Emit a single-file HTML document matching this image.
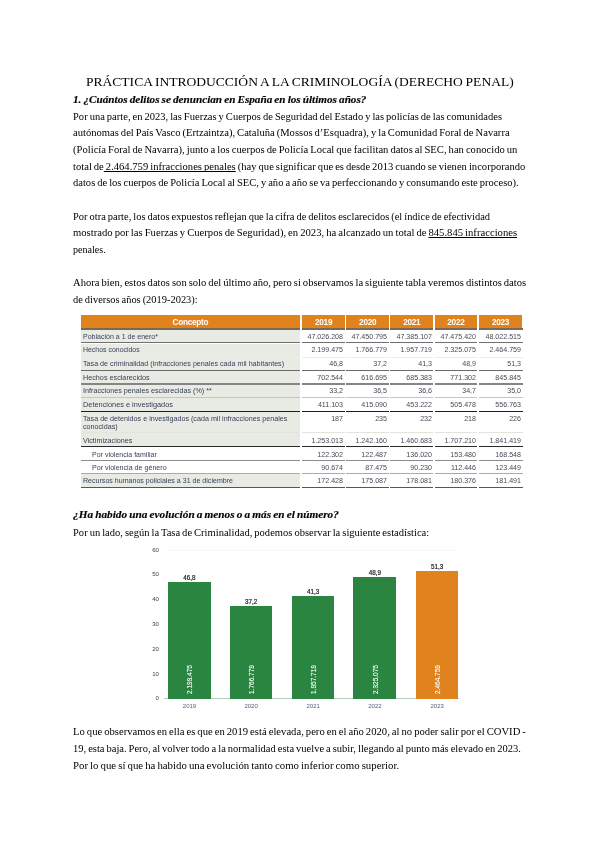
<!DOCTYPE html>
<html lang="es"><head><meta charset="utf-8"><title>doc</title><style>
html,body{margin:0;padding:0;background:#fff;}
body{width:600px;height:848px;position:relative;overflow:hidden;font-family:"Liberation Serif",serif;color:#000;}
.l{position:absolute;white-space:nowrap;transform-origin:0 0;line-height:1;word-spacing:-0.6px;}
.t{font-size:12.6px;}
.h{font-size:10.0px;font-weight:bold;font-style:italic;color:#000;-webkit-text-stroke:0.15px #000;}
.b{font-size:9.9px;}
u{text-decoration:underline;text-decoration-thickness:0.9px;text-underline-offset:0.9px;text-decoration-skip-ink:none;}

.tb{position:absolute;left:0;top:0;width:600px;height:848px;filter:blur(0.35px);font-family:"Liberation Sans",sans-serif;}
.tb div{position:absolute;}
.hd{background:#E0821E;color:#fff;font-weight:bold;font-size:8.2px;letter-spacing:-0.25px;line-height:16.4px;text-align:center;height:13.9px;top:314.5px;}
.c1{left:80.5px;width:219.8px;background:#E7EBE3;}
.ln{left:80.5px;width:442px;}
.rt{left:82.6px;font-size:7.15px;line-height:8.4px;color:#39405a;white-space:nowrap;transform-origin:0 0;}
.v{font-size:7.5px;line-height:8.4px;transform:scaleX(0.945);transform-origin:100% 50%;color:#454a55;text-align:right;width:41px;white-space:nowrap;}
.gap{background:#fff;top:313px;height:177px;width:1.6px;}
.ch{position:absolute;left:0;top:0;width:600px;height:848px;filter:blur(0.35px);font-family:"Liberation Sans",sans-serif;}
.ch div{position:absolute;}
.yl{font-size:6.1px;line-height:6px;color:#3a4358;width:12px;text-align:right;left:147px;}
.xl{font-size:6px;line-height:6px;color:#55607a;width:43px;text-align:center;top:702.8px;}
.vl{font-size:6.3px;line-height:6px;color:#1c1c24;-webkit-text-stroke:0.2px #1c1c24;width:43px;text-align:center;}
.bar{background:#2A8540;width:42.6px;}
.rl{font-size:6.5px;-webkit-text-stroke:0.1px #fff;line-height:6px;color:#fff;white-space:nowrap;transform-origin:0 0;transform:rotate(-90deg);}
</style></head><body>
<div class="l t" id="l0" style="left:85.6px;top:75.95px;transform:scaleX(1.0746)">PRÁCTICA INTRODUCCIÓN A LA CRIMINOLOGÍA (DERECHO PENAL)</div>
<div class="l h" id="l1" style="left:73.3px;top:95.47px;transform:scaleX(1.1169)">1. ¿Cuántos delitos se denuncian en España en los últimos años?</div>
<div class="l b" id="l2" style="left:72.6px;top:111.71px;transform:scaleX(1.0668)">Por una parte, en 2023, las Fuerzas y Cuerpos de Seguridad del Estado y las policías de las comunidades</div>
<div class="l b" id="l3" style="left:72.6px;top:128.36px;transform:scaleX(1.0715)">autónomas del País Vasco (Ertzaintza), Cataluña (Mossos d’Esquadra), y la Comunidad Foral de Navarra</div>
<div class="l b" id="l4" style="left:72.6px;top:145.01px;transform:scaleX(1.0742)">(Policía Foral de Navarra), junto a los cuerpos de Policía Local que facilitan datos al SEC, han conocido un</div>
<div class="l b" id="l5" style="left:72.6px;top:161.66px;transform:scaleX(1.0725)">total de<u> 2.464.759 infracciones penales</u> (hay que significar que es desde 2013 cuando se vienen incorporando</div>
<div class="l b" id="l6" style="left:72.6px;top:178.31px;transform:scaleX(1.0669)">datos de los cuerpos de Policía Local al SEC, y año a año se va perfeccionando y consumando este proceso).</div>
<div class="l b" id="l7" style="left:72.6px;top:211.61px;transform:scaleX(1.0593)">Por otra parte, los datos expuestos reflejan que la cifra de delitos esclarecidos (el índice de efectividad</div>
<div class="l b" id="l8" style="left:72.6px;top:228.26px;transform:scaleX(1.0782)">mostrado por las Fuerzas y Cuerpos de Seguridad), en 2023, ha alcanzado un total de <u>845.845 infracciones</u></div>
<div class="l b" id="l9" style="left:72.6px;top:244.91px;transform:scaleX(1.0189)">penales.</div>
<div class="l b" id="l10" style="left:72.6px;top:278.21px;transform:scaleX(1.0731)">Ahora bien, estos datos son solo del último año, pero si observamos la siguiente tabla veremos distintos datos</div>
<div class="l b" id="l11" style="left:72.6px;top:294.86px;transform:scaleX(1.0562)">de diversos años (2019-2023):</div>
<div class="l h" id="l12" style="left:72.6px;top:510.42px;transform:scaleX(1.1270)">¿Ha habido una evolución a menos o a más en el número?</div>
<div class="l b" id="l13" style="left:72.6px;top:527.96px;transform:scaleX(1.0676)">Por un lado, según la Tasa de Criminalidad, podemos observar la siguiente estadística:</div>
<div class="l b" id="l14" style="left:72.6px;top:727.36px;transform:scaleX(1.0776)">Lo que observamos en ella es que en 2019 está elevada, pero en el año 2020, al no poder salir por el COVID -</div>
<div class="l b" id="l15" style="left:72.6px;top:744.01px;transform:scaleX(1.0649)">19, esta baja. Pero, al volver todo a la normalidad esta vuelve a subir, llegando al punto más elevado en 2023.</div>
<div class="l b" id="l16" style="left:72.6px;top:760.66px;transform:scaleX(1.0957)">Por lo que sí que ha habido una evolución tanto como inferior como superior.</div>
<div class="tb">
<div class="hd" style="left:80.5px;width:219.8px">Concepto</div>
<div class="hd" style="left:302.20px;width:42.80px">2019</div>
<div class="hd" style="left:346.30px;width:42.80px">2020</div>
<div class="hd" style="left:390.40px;width:42.80px">2021</div>
<div class="hd" style="left:434.50px;width:42.80px">2022</div>
<div class="hd" style="left:478.60px;width:43.90px">2023</div>
<div class="ln" style="top:328.4px;height:1.2px;background:#7a6a55"></div>
<div class="c1" style="top:329.8px;height:12.2px"></div>
<div class="c1" style="top:343.6px;height:13.0px"></div>
<div class="c1" style="top:357.0px;height:12.6px"></div>
<div class="c1" style="top:371.2px;height:12.2px"></div>
<div class="c1" style="top:384.6px;height:12.2px"></div>
<div class="c1" style="top:397.6px;height:13.0px"></div>
<div class="c1" style="top:412.0px;height:20.2px"></div>
<div class="c1" style="top:433.0px;height:13.0px"></div>
<div class="c1" style="top:474.4px;height:12.8px"></div>
<div class="ln" style="top:341.7px;height:1.7px;background:#707070"></div>
<div class="ln" style="top:356.6px;height:0.5px;background:#ebedea"></div>
<div class="ln" style="top:369.6px;height:1.7px;background:#6a6a68"></div>
<div class="ln" style="top:383.3px;height:1.6px;background:#858587"></div>
<div class="ln" style="top:396.8px;height:0.8px;background:#c4c6c0"></div>
<div class="ln" style="top:410.6px;height:1.4px;background:#1e1e1e"></div>
<div class="ln" style="top:432.2px;height:0.8px;background:#e2e5de"></div>
<div class="ln" style="top:446.0px;height:1.2px;background:#2a2a2a"></div>
<div class="ln" style="top:459.8px;height:0.9px;background:#8c8c8c"></div>
<div class="ln" style="top:473.4px;height:0.9px;background:#aaaaaa"></div>
<div class="ln" style="top:486.8px;height:1.5px;background:#555555"></div>
<div class="rt" id="r0" style="top:332.6px;left:82.6px;transform:scaleX(0.9838)">Población a 1 de enero*</div>
<div class="v" style="top:332.6px;left:302.30px">47.026.208</div>
<div class="v" style="top:332.6px;left:346.40px">47.450.795</div>
<div class="v" style="top:332.6px;left:390.50px">47.385.107</div>
<div class="v" style="top:332.6px;left:434.60px">47.475.420</div>
<div class="v" style="top:332.6px;left:479.80px">48.022.515</div>
<div class="rt" id="r1" style="top:346.4px;left:82.6px;transform:scaleX(0.9716)">Hechos conocidos</div>
<div class="v" style="top:346.4px;left:302.30px">2.199.475</div>
<div class="v" style="top:346.4px;left:346.40px">1.766.779</div>
<div class="v" style="top:346.4px;left:390.50px">1.957.719</div>
<div class="v" style="top:346.4px;left:434.60px">2.325.075</div>
<div class="v" style="top:346.4px;left:479.80px">2.464.759</div>
<div class="rt" id="r2" style="top:359.8px;left:82.6px;transform:scaleX(1.0032)">Tasa de criminalidad (infracciones penales cada mil habitantes)</div>
<div class="v" style="top:359.8px;left:302.30px">46,8</div>
<div class="v" style="top:359.8px;left:346.40px">37,2</div>
<div class="v" style="top:359.8px;left:390.50px">41,3</div>
<div class="v" style="top:359.8px;left:434.60px">48,9</div>
<div class="v" style="top:359.8px;left:479.80px">51,3</div>
<div class="rt" id="r3" style="top:373.7px;left:82.6px;transform:scaleX(1.0123)">Hechos esclarecidos</div>
<div class="v" style="top:373.7px;left:302.30px">702.544</div>
<div class="v" style="top:373.7px;left:346.40px">616.695</div>
<div class="v" style="top:373.7px;left:390.50px">685.383</div>
<div class="v" style="top:373.7px;left:434.60px">771.302</div>
<div class="v" style="top:373.7px;left:479.80px">845.845</div>
<div class="rt" id="r4" style="top:387.2px;left:82.6px;transform:scaleX(1.0077)">Infracciones penales esclarecidas (%) **</div>
<div class="v" style="top:387.2px;left:302.30px">33,2</div>
<div class="v" style="top:387.2px;left:346.40px">36,5</div>
<div class="v" style="top:387.2px;left:390.50px">36,6</div>
<div class="v" style="top:387.2px;left:434.60px">34,7</div>
<div class="v" style="top:387.2px;left:479.80px">35,0</div>
<div class="rt" id="r5" style="top:400.6px;left:82.6px;transform:scaleX(1.0304)">Detenciones e investigados</div>
<div class="v" style="top:400.6px;left:302.30px">411.103</div>
<div class="v" style="top:400.6px;left:346.40px">415.090</div>
<div class="v" style="top:400.6px;left:390.50px">453.222</div>
<div class="v" style="top:400.6px;left:434.60px">505.478</div>
<div class="v" style="top:400.6px;left:479.80px">556.763</div>
<div class="rt" id="r6" style="top:414.6px;left:82.6px;transform:scaleX(1.0037)">Tasa de detenidos e investigados (cada mil infracciones penales<br>conocidas)</div>
<div class="v" style="top:414.6px;left:302.30px">187</div>
<div class="v" style="top:414.6px;left:346.40px">235</div>
<div class="v" style="top:414.6px;left:390.50px">232</div>
<div class="v" style="top:414.6px;left:434.60px">218</div>
<div class="v" style="top:414.6px;left:479.80px">226</div>
<div class="rt" id="r7" style="top:436.6px;left:82.6px;transform:scaleX(1.0045)">Victimizaciones</div>
<div class="v" style="top:436.6px;left:302.30px">1.253.013</div>
<div class="v" style="top:436.6px;left:346.40px">1.242.160</div>
<div class="v" style="top:436.6px;left:390.50px">1.460.683</div>
<div class="v" style="top:436.6px;left:434.60px">1.707.210</div>
<div class="v" style="top:436.6px;left:479.80px">1.841.419</div>
<div class="rt" id="r8" style="top:450.6px;left:91.9px;transform:scaleX(0.9834)">Por violencia familiar</div>
<div class="v" style="top:450.6px;left:302.30px">122.302</div>
<div class="v" style="top:450.6px;left:346.40px">122.487</div>
<div class="v" style="top:450.6px;left:390.50px">136.020</div>
<div class="v" style="top:450.6px;left:434.60px">153.480</div>
<div class="v" style="top:450.6px;left:479.80px">168.548</div>
<div class="rt" id="r9" style="top:464.0px;left:91.9px;transform:scaleX(0.9943)">Por violencia de género</div>
<div class="v" style="top:464.0px;left:302.30px">90.674</div>
<div class="v" style="top:464.0px;left:346.40px">87.475</div>
<div class="v" style="top:464.0px;left:390.50px">90.230</div>
<div class="v" style="top:464.0px;left:434.60px">112.446</div>
<div class="v" style="top:464.0px;left:479.80px">123.449</div>
<div class="rt" id="r10" style="top:477.2px;left:82.6px;transform:scaleX(0.9893)">Recursos humanos policiales a 31 de diciembre</div>
<div class="v" style="top:477.2px;left:302.30px">172.428</div>
<div class="v" style="top:477.2px;left:346.40px">175.087</div>
<div class="v" style="top:477.2px;left:390.50px">178.081</div>
<div class="v" style="top:477.2px;left:434.60px">180.376</div>
<div class="v" style="top:477.2px;left:479.80px">181.491</div>
<div class="gap" style="left:300.3px"></div>
<div class="gap" style="left:344.80px;width:1.5px"></div>
<div class="gap" style="left:388.90px;width:1.5px"></div>
<div class="gap" style="left:433.00px;width:1.5px"></div>
<div class="gap" style="left:477.10px;width:1.5px"></div>
</div>
<div class="ch">
<div class="yl" style="top:695.4px">0</div>
<div class="yl" style="top:670.6px">10</div>
<div class="yl" style="top:645.8px">20</div>
<div class="yl" style="top:621.0px">30</div>
<div class="yl" style="top:596.2px">40</div>
<div class="yl" style="top:571.4px">50</div>
<div class="yl" style="top:546.6px">60</div>
<div style="left:168px;width:290px;top:549.8px;height:0.6px;background:#f6f6f6"></div>
<div style="left:164px;width:295px;top:698.3px;height:0.9px;background:#b9cdb9"></div>
<div class="bar" style="left:168.0px;top:582.0px;width:42.6px;height:116.6px;background:#2A8540"></div>
<div class="vl" style="left:168.0px;top:574.7px">46,8</div>
<div class="xl" style="left:168.0px">2019</div>
<div class="rl" style="left:187.3px;top:694.4px">2.199.475</div>
<div class="bar" style="left:229.6px;top:606.3px;width:42.6px;height:92.3px;background:#2A8540"></div>
<div class="vl" style="left:229.6px;top:599.0px">37,2</div>
<div class="xl" style="left:229.6px">2020</div>
<div class="rl" style="left:248.9px;top:694.4px">1.766.779</div>
<div class="bar" style="left:291.7px;top:596.2px;width:42.6px;height:102.4px;background:#2A8540"></div>
<div class="vl" style="left:291.7px;top:588.9px">41,3</div>
<div class="xl" style="left:291.7px">2021</div>
<div class="rl" style="left:311.0px;top:694.4px">1.957.719</div>
<div class="bar" style="left:353.4px;top:577.3px;width:43.1px;height:121.3px;background:#2A8540"></div>
<div class="vl" style="left:353.4px;top:570.0px">48,9</div>
<div class="xl" style="left:353.4px">2022</div>
<div class="rl" style="left:372.7px;top:694.4px">2.325.075</div>
<div class="bar" style="left:415.7px;top:571.4px;width:42.6px;height:127.2px;background:#E0831F"></div>
<div class="vl" style="left:415.7px;top:564.1px">51,3</div>
<div class="xl" style="left:415.7px">2023</div>
<div class="rl" style="left:435.0px;top:694.4px">2.464.759</div>
</div>
</body></html>
